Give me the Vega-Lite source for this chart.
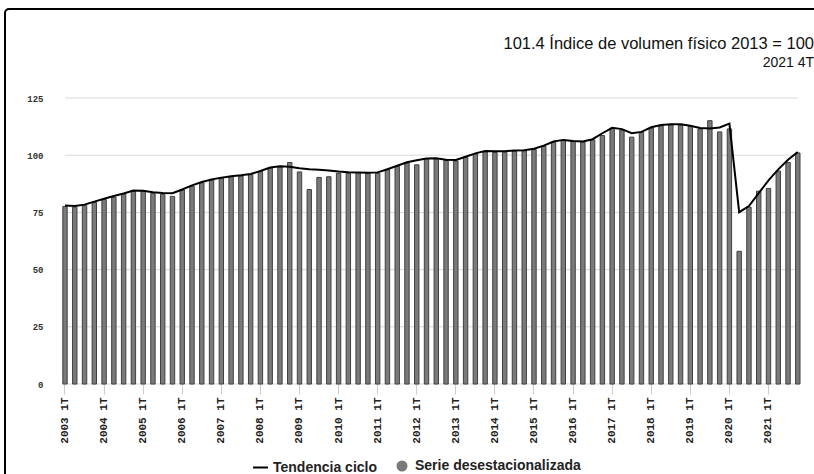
{
  "$schema": "https://vega.github.io/schema/vega-lite/v6.json",
  "autosize": {"type": "none"},
  "padding": {"left": 5, "top": 9, "right": 0, "bottom": 0},
  "width": 853,
  "height": 470,
  "background": "white",
  "config": {
    "view": {"stroke": "#000000", "strokeWidth": 2, "cornerRadius": 4}
  },
  "title": {
    "text": "101.4  Índice de volumen físico 2013 = 100",
    "subtitle": "2021 4T",
    "anchor": "end",
    "frame": "group",
    "dx": -44,
    "offset": -61,
    "font": "Liberation Sans",
    "fontSize": 16.5,
    "fontWeight": "normal",
    "color": "#111111",
    "subtitleFont": "Liberation Sans",
    "subtitleFontSize": 14,
    "subtitleColor": "#111111",
    "subtitlePadding": 4
  },
  "datasets": {
    "grid": [{"g": 0}, {"g": 25}, {"g": 50}, {"g": 75}, {"g": 100}, {"g": 125}],
    "ivf": [
      {"periodo": "2003 1T", "desest": 77.6, "tendencia": 78.0},
      {"periodo": "2003 2T", "desest": 77.3, "tendencia": 77.8},
      {"periodo": "2003 3T", "desest": 78.0, "tendencia": 78.4},
      {"periodo": "2003 4T", "desest": 79.4, "tendencia": 79.7},
      {"periodo": "2004 1T", "desest": 80.6, "tendencia": 81.0},
      {"periodo": "2004 2T", "desest": 81.6, "tendencia": 82.2},
      {"periodo": "2004 3T", "desest": 83.0, "tendencia": 83.3},
      {"periodo": "2004 4T", "desest": 84.2, "tendencia": 84.6},
      {"periodo": "2005 1T", "desest": 84.3, "tendencia": 84.5},
      {"periodo": "2005 2T", "desest": 83.4, "tendencia": 83.8},
      {"periodo": "2005 3T", "desest": 82.9, "tendencia": 83.5},
      {"periodo": "2005 4T", "desest": 82.0, "tendencia": 83.4},
      {"periodo": "2006 1T", "desest": 84.8, "tendencia": 85.0},
      {"periodo": "2006 2T", "desest": 86.5, "tendencia": 86.8},
      {"periodo": "2006 3T", "desest": 88.0, "tendencia": 88.3},
      {"periodo": "2006 4T", "desest": 89.2, "tendencia": 89.4},
      {"periodo": "2007 1T", "desest": 89.8, "tendencia": 90.2},
      {"periodo": "2007 2T", "desest": 90.6, "tendencia": 90.8},
      {"periodo": "2007 3T", "desest": 90.9, "tendencia": 91.2},
      {"periodo": "2007 4T", "desest": 91.5, "tendencia": 91.8},
      {"periodo": "2008 1T", "desest": 92.9, "tendencia": 93.1},
      {"periodo": "2008 2T", "desest": 94.4, "tendencia": 94.6},
      {"periodo": "2008 3T", "desest": 94.9, "tendencia": 95.2},
      {"periodo": "2008 4T", "desest": 96.8, "tendencia": 95.0},
      {"periodo": "2009 1T", "desest": 92.7, "tendencia": 94.3},
      {"periodo": "2009 2T", "desest": 85.0, "tendencia": 93.9},
      {"periodo": "2009 3T", "desest": 90.3, "tendencia": 93.6},
      {"periodo": "2009 4T", "desest": 90.6, "tendencia": 93.3},
      {"periodo": "2010 1T", "desest": 92.1, "tendencia": 92.9},
      {"periodo": "2010 2T", "desest": 92.2, "tendencia": 92.6},
      {"periodo": "2010 3T", "desest": 92.3, "tendencia": 92.5},
      {"periodo": "2010 4T", "desest": 92.0, "tendencia": 92.3},
      {"periodo": "2011 1T", "desest": 92.1, "tendencia": 92.5},
      {"periodo": "2011 2T", "desest": 93.7, "tendencia": 93.9},
      {"periodo": "2011 3T", "desest": 95.2, "tendencia": 95.4},
      {"periodo": "2011 4T", "desest": 96.6, "tendencia": 96.9},
      {"periodo": "2012 1T", "desest": 95.8, "tendencia": 97.8},
      {"periodo": "2012 2T", "desest": 98.4, "tendencia": 98.6},
      {"periodo": "2012 3T", "desest": 98.5, "tendencia": 98.7},
      {"periodo": "2012 4T", "desest": 97.7, "tendencia": 98.0},
      {"periodo": "2013 1T", "desest": 97.5, "tendencia": 97.9},
      {"periodo": "2013 2T", "desest": 99.0, "tendencia": 99.3},
      {"periodo": "2013 3T", "desest": 100.5, "tendencia": 100.8},
      {"periodo": "2013 4T", "desest": 101.5, "tendencia": 101.8},
      {"periodo": "2014 1T", "desest": 101.2, "tendencia": 101.7},
      {"periodo": "2014 2T", "desest": 101.3, "tendencia": 101.7},
      {"periodo": "2014 3T", "desest": 101.8, "tendencia": 102.1},
      {"periodo": "2014 4T", "desest": 102.0, "tendencia": 102.2},
      {"periodo": "2015 1T", "desest": 102.5, "tendencia": 102.8},
      {"periodo": "2015 2T", "desest": 103.9, "tendencia": 104.2},
      {"periodo": "2015 3T", "desest": 105.7, "tendencia": 106.0},
      {"periodo": "2015 4T", "desest": 106.4, "tendencia": 106.7},
      {"periodo": "2016 1T", "desest": 106.0, "tendencia": 106.2},
      {"periodo": "2016 2T", "desest": 105.8, "tendencia": 106.0},
      {"periodo": "2016 3T", "desest": 106.7, "tendencia": 107.0},
      {"periodo": "2016 4T", "desest": 108.6, "tendencia": 109.6},
      {"periodo": "2017 1T", "desest": 111.8, "tendencia": 112.0},
      {"periodo": "2017 2T", "desest": 111.0, "tendencia": 111.4},
      {"periodo": "2017 3T", "desest": 107.9, "tendencia": 109.6},
      {"periodo": "2017 4T", "desest": 109.9, "tendencia": 110.2},
      {"periodo": "2018 1T", "desest": 111.9, "tendencia": 112.2},
      {"periodo": "2018 2T", "desest": 112.9, "tendencia": 113.2},
      {"periodo": "2018 3T", "desest": 113.2, "tendencia": 113.5},
      {"periodo": "2018 4T", "desest": 113.1, "tendencia": 113.5},
      {"periodo": "2019 1T", "desest": 112.6, "tendencia": 112.9},
      {"periodo": "2019 2T", "desest": 111.4, "tendencia": 111.9},
      {"periodo": "2019 3T", "desest": 115.1, "tendencia": 111.7},
      {"periodo": "2019 4T", "desest": 110.2, "tendencia": 112.1},
      {"periodo": "2020 1T", "desest": 111.5, "tendencia": 113.8},
      {"periodo": "2020 2T", "desest": 58.0, "tendencia": 75.1},
      {"periodo": "2020 3T", "desest": 77.3, "tendencia": 77.8},
      {"periodo": "2020 4T", "desest": 84.3, "tendencia": 83.4},
      {"periodo": "2021 1T", "desest": 85.5, "tendencia": 89.0},
      {"periodo": "2021 2T", "desest": 93.1, "tendencia": 93.8},
      {"periodo": "2021 3T", "desest": 96.8, "tendencia": 98.0},
      {"periodo": "2021 4T", "desest": 101.0, "tendencia": 101.4}
    ]
  },
  "layer": [
    {
      "data": {"name": "grid"},
      "mark": {"type": "rule", "color": "#d9d9d9", "strokeWidth": 1},
      "encoding": {
        "y": {"field": "g", "type": "quantitative", "scale": {"domain": [-41.5, 163.9], "nice": false, "zero": false}},
        "x": {"datum": "2003 1T", "type": "ordinal"},
        "x2": {"datum": "2021 4T"}
      }
    },
    {
      "data": {"name": "ivf"},
      "mark": {"type": "bar", "stroke": "#404040", "strokeWidth": 1},
      "encoding": {
        "x": {
          "field": "periodo",
          "type": "ordinal",
          "scale": {"paddingInner": 0.55, "paddingOuter": 0, "range": [57.8, 795]},
          "axis": {
            "title": null,
            "orient": "bottom",
            "values": ["2003 1T", "2004 1T", "2005 1T", "2006 1T", "2007 1T", "2008 1T", "2009 1T", "2010 1T", "2011 1T", "2012 1T", "2013 1T", "2014 1T", "2015 1T", "2016 1T", "2017 1T", "2018 1T", "2019 1T", "2020 1T", "2021 1T"],
            "labelAngle": 270,
            "labelFont": "Liberation Mono",
            "labelFontSize": 11,
            "labelFontWeight": "bold",
            "labelColor": "#222222",
            "ticks": true,
            "tickSize": 10,
            "tickColor": "#cccccc",
            "domain": false,
            "grid": false,
            "offset": -95,
            "labelPadding": 3,
            "labelOverlap": false
          }
        },
        "y": {
          "field": "desest",
          "type": "quantitative",
          "scale": {"domain": [-41.5, 163.9], "nice": false, "zero": false},
          "axis": {
            "title": null,
            "values": [0, 25, 50, 75, 100, 125],
            "grid": false,
            "ticks": false,
            "domain": false,
            "offset": -40,
            "labelPadding": 2,
            "labelFont": "Liberation Mono",
            "labelFontSize": 9,
            "labelFontWeight": "bold",
            "labelColor": "#333333"
          }
        },
        "y2": {"datum": 0},
        "color": {
          "datum": "Serie desestacionalizada",
          "scale": {"domain": ["Serie desestacionalizada"], "range": ["#7a7a7a"]},
          "legend": {
            "title": null,
            "orient": "none",
            "legendX": 390,
            "legendY": 450,
            "direction": "horizontal",
            "symbolType": "circle",
            "symbolSize": 121,
            "symbolStrokeWidth": 0,
            "symbolStrokeColor": "transparent",
            "symbolFillColor": "#808080",
            "labelFont": "Liberation Sans",
            "labelFontSize": 14,
            "labelFontWeight": "bold",
            "labelColor": "#222222",
            "labelOffset": 6,
            "labelLimit": 400
          }
        }
      }
    },
    {
      "data": {"name": "ivf"},
      "mark": {"type": "line", "strokeWidth": 2},
      "encoding": {
        "x": {"field": "periodo", "type": "ordinal"},
        "y": {"field": "tendencia", "type": "quantitative", "scale": {"domain": [-41.5, 163.9], "nice": false, "zero": false}},
        "stroke": {
          "datum": "Tendencia ciclo",
          "scale": {"domain": ["Tendencia ciclo"], "range": ["#000000"]},
          "legend": {
            "title": null,
            "orient": "none",
            "legendX": 247,
            "legendY": 450,
            "direction": "horizontal",
            "symbolType": "stroke",
            "symbolSize": 225,
            "symbolStrokeWidth": 2,
            "labelFont": "Liberation Sans",
            "labelFontSize": 14,
            "labelFontWeight": "bold",
            "labelColor": "#222222",
            "labelOffset": 4,
            "labelLimit": 400
          }
        }
      }
    }
  ]
}
